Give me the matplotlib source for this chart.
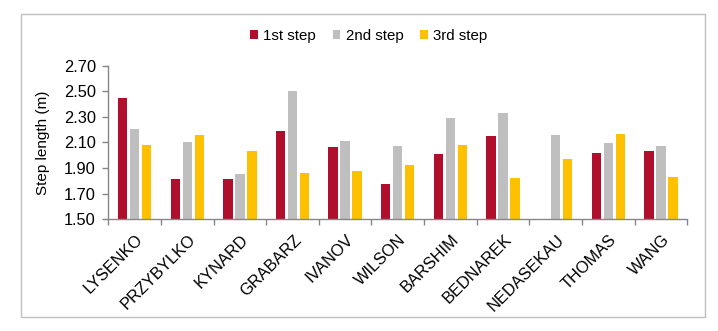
import matplotlib.pyplot as plt
import numpy as np
from matplotlib.patches import Rectangle
from matplotlib.transforms import ScaledTranslation

plt.rcParams['font.family'] = ['Liberation Sans', 'DejaVu Sans']

athletes = ["LYSENKO", "PRZYBYLKO", "KYNARD", "GRABARZ", "IVANOV", "WILSON",
            "BARSHIM", "BEDNAREK", "NEDASEKAU", "THOMAS", "WANG"]
step1 = [2.445, 1.818, 1.813, 2.190, 2.068, 1.779, 2.008, 2.154, np.nan, 2.016, 2.031]
step2 = [2.203, 2.107, 1.857, 2.505, 2.115, 2.073, 2.294, 2.333, 2.161, 2.096, 2.076]
step3 = [2.083, 2.159, 2.036, 1.859, 1.880, 1.922, 2.078, 1.823, 1.969, 2.164, 1.833]
series_names = ["1st step", "2nd step", "3rd step"]
colors = ["#AF0E2C", "#BFBFBF", "#FFC000"]
yticks = [1.50, 1.70, 1.90, 2.10, 2.30, 2.50, 2.70]

fig = plt.figure(figsize=(7.18, 3.31), dpi=100)
ax = fig.add_axes([0.1508, 0.3375, 0.8064, 0.464])

x = np.arange(len(athletes))
w = 0.178
off = 0.228
for i, (vals, name, c) in enumerate(zip([step1, step2, step3], series_names, colors)):
    ax.bar(x + (i - 1) * off, vals, width=w, bottom=0, color=c, label=name)

ax.set_xlim(-0.5, len(athletes) - 0.5)
ax.set_ylim(1.5, 2.7)
ax.set_yticks(yticks)
ax.set_yticklabels([f"{v:.2f}" for v in yticks], fontsize=11.8)
ax.set_ylabel("Step length (m)", fontsize=11, labelpad=10)

axis_gray = "#868686"
for s in ["top", "right"]:
    ax.spines[s].set_visible(False)
for s in ["left", "bottom"]:
    ax.spines[s].set_color(axis_gray)
    ax.spines[s].set_linewidth(1)
ax.tick_params(axis="y", length=4, width=1, color=axis_gray, pad=5)

# names hang at 45 degrees, right end just under the group centre
ax.set_xticks(x)
ax.set_xticklabels(athletes, fontsize=11.8, rotation=45, ha="right",
                   va="center", rotation_mode="anchor")
ax.set_xticks(np.arange(len(athletes) + 1) - 0.5, minor=True)
ax.tick_params(axis="x", which="major", length=0, pad=13)
ax.tick_params(axis="x", which="minor", length=4, width=1, color=axis_gray)
shift = ScaledTranslation(6 / 100, 0, fig.dpi_scale_trans)
for lbl in ax.get_xticklabels():
    lbl.set_transform(lbl.get_transform() + shift)

ax.legend(loc="center", bbox_to_anchor=(0.45, 1 + 30 / 153.6), ncol=3,
          frameon=False, fontsize=10.8, handlelength=0.52, handleheight=0.52,
          handletextpad=0.35, columnspacing=1.1, borderaxespad=0,
          borderpad=0)

fig.patches.append(Rectangle((20.5 / 718, 1 - 317 / 331), 684 / 718, 303.5 / 331,
                             transform=fig.transFigure, fill=False,
                             edgecolor="#BFBFBF", linewidth=1))

fig.savefig("out.png", dpi=100)
